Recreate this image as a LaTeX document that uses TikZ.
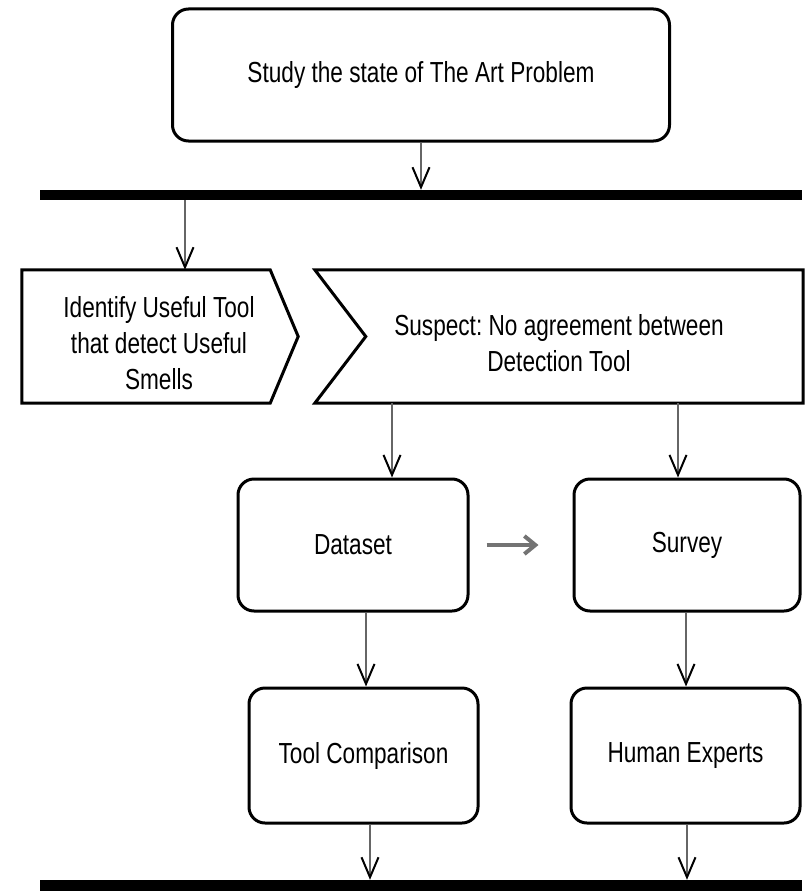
\documentclass[tikz,border=0pt]{standalone}
\usepackage{fontspec}
\setmainfont[FakeStretch=0.78]{Liberation Sans}
\usetikzlibrary{arrows.meta,calc}
\frenchspacing

\begin{document}
\begin{tikzpicture}[x=1pt,y=-1pt,
  txtfont/.style={font=\fontsize{29}{36}\selectfont},
  flow/.style={draw=black,line width=3pt,rounded corners=16pt,align=center,inner sep=0pt,txtfont},
  frame/.style={draw=none,inner sep=0pt},
  outline/.style={draw=black,line width=3pt,line join=miter},
  label/.style={align=center,inner sep=0pt,txtfont},
  bar/.style={fill=black,draw=none,inner sep=0pt,minimum width=762pt,minimum height=10pt},
  arr/.style={draw=black!60,line width=1.5pt,
    -{Straight Barb[length=20pt,width=17pt,line width=2pt,color=black]}},
  sidearr/.style={draw=black!55,line width=4pt,
    -{Straight Barb[length=11pt,width=18pt,line width=4pt]}}
]
\useasboundingbox (0,0) rectangle (809,891);

% start activity and fork bar
\node[flow,minimum width=497pt,minimum height=132pt] (study) at (421,75) {Study the state of The Art Problem};
\node[bar] (topbar) at (421,195) {};

% the two signals
\node[frame,minimum width=248pt,minimum height=133pt] (idt) at (146,336.5) {};
\draw[outline] (idt.north west) -- (idt.north east) -- ($(idt.east)+(28,0)$)
  -- (idt.south east) -- (idt.south west) -- cycle;
\node[label] (idtlabel) at (159,343) {Identify Useful Tool\\that detect Useful\\Smells};

\node[frame,minimum width=488pt,minimum height=133pt] (sus) at (559,336.5) {};
\draw[outline] (sus.north west) -- (sus.north east) -- (sus.south east)
  -- (sus.south west) -- ($(sus.west)+(51,0)$) -- cycle;
\node[label] (suslabel) at (559,343) {Suspect: No agreement between\\Detection Tool};

% activities
\node[flow,minimum width=230pt,minimum height=132pt] (ds) at (353,545) {Dataset};
\node[flow,minimum width=226pt,minimum height=132pt] (sv) at (687,545) {Survey};
\node[flow,minimum width=229pt,minimum height=135pt] (tc) at (363.5,755.5) {Tool Comparison};
\node[flow,minimum width=229pt,minimum height=135pt] (he) at (685.5,755.5) {Human Experts};

% join bar
\node[bar,minimum height=12pt] (botbar) at (421,886) {};

% connectors
\coordinate (xa) at (185,0);
\coordinate (xb) at (392,0);
\coordinate (xc) at (678,0);
\coordinate (xd) at (366,0);
\coordinate (xe) at (686,0);
\coordinate (xf) at (370,0);
\coordinate (xg) at (687,0);

\draw[arr] (study.south) -- (study.south |- topbar.north);
\draw[arr] (topbar.south -| xa) -- (idt.north -| xa);
\draw[arr] (sus.south -| xb) -- (ds.north -| xb);
\draw[arr] (sus.south -| xc) -- (sv.north -| xc);
\draw[sidearr,shorten <=17pt,shorten >=34pt] (ds.east) -- (sv.west);
\draw[arr] (ds.south -| xd) -- (tc.north -| xd);
\draw[arr] (sv.south -| xe) -- (he.north -| xe);
\draw[arr] (tc.south -| xf) -- (botbar.north -| xf);
\draw[arr] (he.south -| xg) -- (botbar.north -| xg);
\end{tikzpicture}
\end{document}
